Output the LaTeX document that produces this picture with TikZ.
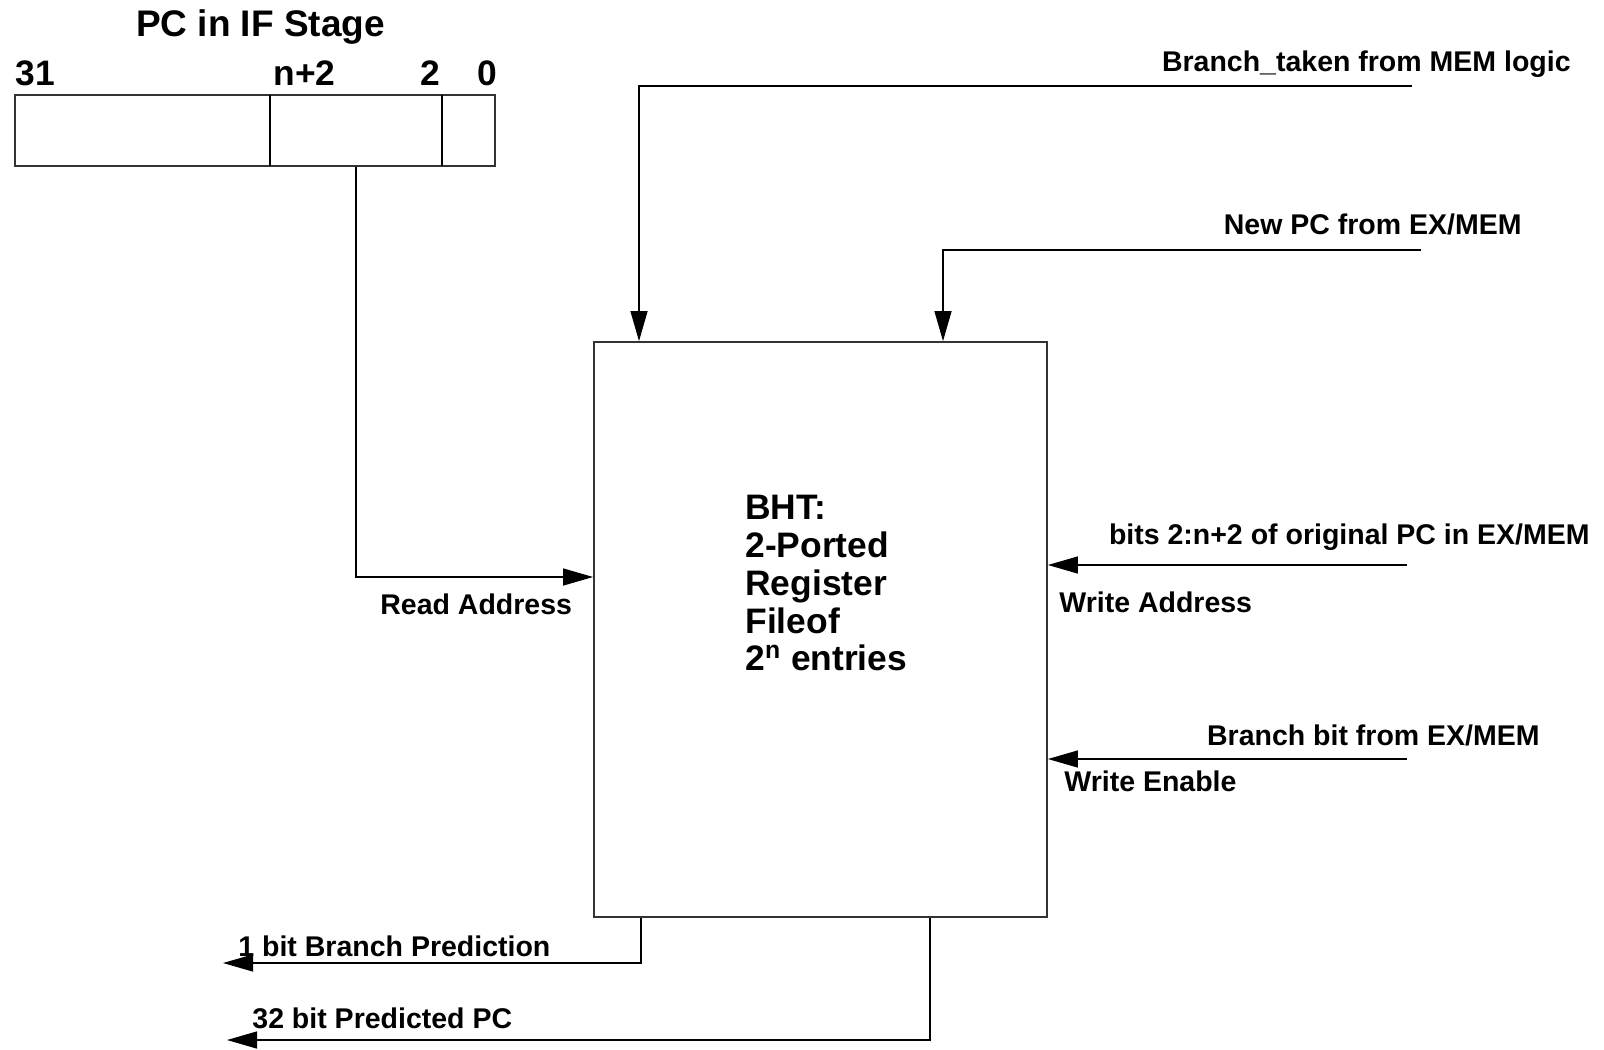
\documentclass[tikz,border=0pt]{standalone}
\usepackage{fontspec}
\setmainfont{Liberation Sans}
\usetikzlibrary{positioning,arrows.meta}

\begin{document}
\begin{tikzpicture}[
  x=0.5pt, y=-0.5pt,
  blk/.style ={draw=black!80, line width=0.9pt, inner sep=0pt},
  wire/.style={line width=0.65pt},
  ar/.style  ={wire, -{Triangle[length=15pt,width=8.5pt]}},
  lbl/.style ={font=\bfseries\fontsize{14.25}{17}\selectfont, inner sep=0pt},
  num/.style ={font=\bfseries\fontsize{17.7}{20}\selectfont, inner sep=0pt, anchor=base west},
]
\useasboundingbox (0,0) rectangle (1604,1049);

% PC register in the IF stage
\node[blk, minimum width=240pt, minimum height=35.5pt] (pc) at (255,130.5) {};
\draw[wire] (270,95) -- (270,166);
\draw[wire] (442,95) -- (442,166);
\node[font=\bfseries\fontsize{18.5}{22}\selectfont, inner sep=0pt, anchor=base] (pctitle) at (260.5,36) {PC in IF Stage};
\node[num] (b31) at (15,85) {31};
\node[num] (bn2) at (273,85) {n+2};
\node[num] (b2)  at (420,85) {2};
\node[num] (b0)  at (477,85) {0};

% branch history table
\node[blk, minimum width=226.5pt, minimum height=287.5pt] (bht) at (820.5,629.5) {};
\node[font=\bfseries\fontsize{17.7}{18.9}\selectfont, inner sep=0pt, align=left, anchor=north west]
  (bhttxt) at (745,495) {BHT:\\2-Ported\\Register\\Fileof\\2\textsuperscript{n} entries};

% free ends of the wires
\coordinate (rdturn) at (356,577);
\coordinate (btsrc)  at (1412,86);
\coordinate (btin)   at (639,0);
\coordinate (npsrc)  at (1421,250);
\coordinate (npin)   at (943,0);
\coordinate (wasrc)  at (1407,565);
\coordinate (wesrc)  at (1407,759);
\coordinate (bpx)    at (641,0);
\coordinate (bpout)  at (223,963);
\coordinate (ppx)    at (930,0);
\coordinate (ppout)  at (227,1040);

\draw[ar] (pc.south -| rdturn) |- (bht.west |- rdturn);
\draw[ar] (btsrc) -| (btin |- bht.north);
\draw[ar] (npsrc) -| (npin |- bht.north);
\draw[ar] (wasrc) -- (bht.east |- wasrc);
\draw[ar] (wesrc) -- (bht.east |- wesrc);
\draw[ar] (bht.south -| bpx) |- (bpout);
\draw[ar] (bht.south -| ppx) |- (ppout);

% labels
\node[lbl, anchor=base west] (rdlbl) at (380,614)  {Read Address};
\node[lbl, anchor=base east] (btlbl) at (1571,71)  {Branch\_taken from MEM logic};
\node[lbl, anchor=base east] (nplbl) at (1522,234) {New PC from EX/MEM};
\node[lbl, anchor=base east] (wslbl) at (1590,544) {bits 2:n+2 of original PC in EX/MEM};
\node[lbl, anchor=base west] (walbl) at (1059,612) {Write Address};
\node[lbl, anchor=base east] (bblbl) at (1540,745) {Branch bit from EX/MEM};
\node[lbl, anchor=base west] (welbl) at (1064,791) {Write Enable};
\node[lbl, anchor=base west] (bplbl) at (238,956)  {1 bit Branch Prediction};
\node[lbl, anchor=base west] (pplbl) at (252,1028) {32 bit Predicted PC};

\end{tikzpicture}
\end{document}
